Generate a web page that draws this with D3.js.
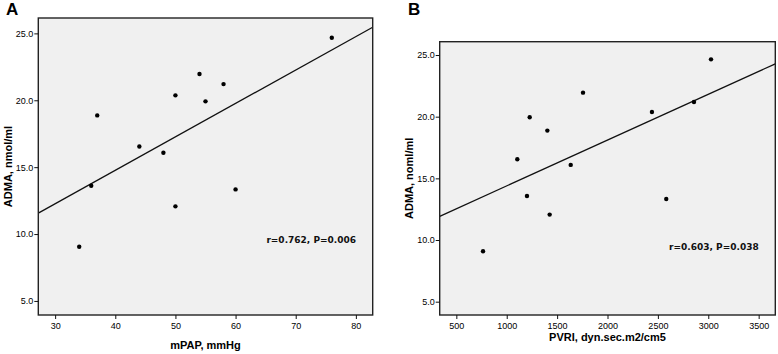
<!DOCTYPE html>
<html>
<head>
<meta charset="utf-8">
<script src="https://cdn.jsdelivr.net/npm/d3@7"></script>
<style>
  body { margin: 0; background: #fff; }
  svg { display: block; }
  .tick text { font-family: "Liberation Sans", Arial, sans-serif; font-size: 9px; fill: #000; }
  .tick line { stroke: #111; }
  .domain { display: none; }
</style>
</head>
<body>
<svg id="chart" width="778" height="354"></svg>
<script>
// mPAP (mmHg) vs ADMA
const mpap = [76, 54, 58, 50, 55, 37, 44, 48, 36, 60, 50, 34]
const admaA = [24.67, 21.96, 21.21, 20.37, 19.92, 18.87, 16.55, 16.08, 13.61, 13.34, 12.07, 9.05]

// PVRI vs ADMA
const pvri = [3027, 1757, 2858, 2441, 1228, 1403, 1105, 1635, 1201, 2583, 1426, 765]
const admaB = [24.65, 21.95, 21.19, 20.38, 19.95, 18.87, 16.55, 16.09, 13.57, 13.33, 12.06, 9.09]

const yTicks = [5, 10, 15, 20, 25]
const xTicksA = [30, 40, 50, 60, 70, 80]
const xTicksB = [500, 1000, 1500, 2000, 2500, 3000, 3500]

const svg = d3.select('#chart')

const fitLine = (xs, ys) => {
  const mx = d3.mean(xs)
  const my = d3.mean(ys)
  let sxy = 0
  let sxx = 0
  xs.forEach((x, i) => {
    sxy += (x - mx) * (ys[i] - my)
    sxx += (x - mx) * (x - mx)
  })
  const slope = sxy / sxx
  return { slope, intercept: my - slope * mx }
}

const drawPanel = (cfg) => {
  const { id, xs, ys, xTicks, xDomain, yDomain, left, right, top, bottom } = cfg
  const xScale = d3.scaleLinear().domain(xDomain).range([left, right])
  const yScale = d3.scaleLinear().domain(yDomain).range([bottom, top])

  const g = svg.append('g').attr('id', 'panel' + id)

  g.append('clipPath')
    .attr('id', 'clip' + id)
    .append('rect')
    .attr('x', left)
    .attr('y', top)
    .attr('width', right - left)
    .attr('height', bottom - top)

  g.append('rect')
    .attr('x', left)
    .attr('y', top)
    .attr('width', right - left)
    .attr('height', bottom - top)
    .attr('fill', '#f0f0f0')

  // regression line
  const { slope, intercept } = fitLine(xs, ys)
  g.append('line')
    .attr('clip-path', `url(#clip${id})`)
    .attr('x1', xScale(xDomain[0]))
    .attr('y1', yScale(intercept + slope * xDomain[0]))
    .attr('x2', xScale(xDomain[1]))
    .attr('y2', yScale(intercept + slope * xDomain[1]))
    .attr('stroke', '#111')
    .attr('stroke-width', 1.3)

  g.selectAll('circle.pt')
    .data(xs.map((x, i) => ({ x, y: ys[i] })))
    .enter()
    .append('circle')
    .attr('class', 'pt')
    .attr('cx', (d) => xScale(d.x))
    .attr('cy', (d) => yScale(d.y))
    .attr('r', 2.2)
    .attr('fill', '#000')

  g.append('rect')
    .attr('x', left)
    .attr('y', top)
    .attr('width', right - left)
    .attr('height', bottom - top)
    .attr('fill', 'none')
    .attr('stroke', '#222')
    .attr('stroke-width', 1.4)

  g.append('g')
    .attr('transform', `translate(${left},0)`)
    .call(d3.axisLeft(yScale).tickValues(yTicks).tickFormat(d3.format('.1f')).tickSize(4).tickPadding(1))

  g.append('g')
    .attr('transform', `translate(0,${bottom})`)
    .call(d3.axisBottom(xScale).tickValues(xTicks).tickFormat(d3.format('d')).tickSize(4).tickPadding(4))

  g.append('text')
    .attr('x', cfg.panelX)
    .attr('y', 15)
    .style('font', 'bold 17px "Liberation Sans", Arial, sans-serif')
    .text(id)

  g.append('text')
    .attr('x', (left + right) / 2)
    .attr('y', cfg.xTitleY)
    .attr('text-anchor', 'middle')
    .style('font', 'bold 11px "Liberation Sans", Arial, sans-serif')
    .text(cfg.xTitle)

  g.append('text')
    .attr('transform', `translate(${cfg.yTitleX},${(top + bottom) / 2}) rotate(-90)`)
    .attr('text-anchor', 'middle')
    .style('font', 'bold 11px "Liberation Sans", Arial, sans-serif')
    .text(cfg.yTitle)

  g.append('text')
    .attr('x', cfg.statX)
    .attr('y', cfg.statY)
    .attr('text-anchor', 'end')
    .style('font', 'bold 9px "DejaVu Sans", sans-serif')
    .attr('fill', '#111')
    .text(cfg.stat)
}

drawPanel({
  id: 'A',
  xs: mpap,
  ys: admaA,
  xTicks: xTicksA,
  xDomain: [27.2, 82.8],
  yDomain: [3.95, 26.15],
  left: 38.3,
  right: 372.7,
  top: 18,
  bottom: 315,
  panelX: 6,
  xTitle: 'mPAP, mmHg',
  xTitleY: 349,
  yTitle: 'ADMA, nmol/ml',
  yTitleX: 12,
  stat: 'r=0.762, P=0.006',
  statX: 356,
  statY: 242.5,
})

drawPanel({
  id: 'B',
  xs: pvri,
  ys: admaB,
  xTicks: xTicksB,
  xDomain: [335, 3665],
  yDomain: [3.92, 26.08],
  left: 439.7,
  right: 775.3,
  top: 41.7,
  bottom: 315,
  panelX: 408,
  xTitle: 'PVRI, dyn.sec.m2/cm5',
  xTitleY: 341,
  yTitle: 'ADMA, noml/ml',
  yTitleX: 413,
  stat: 'r=0.603, P=0.038',
  statX: 758.7,
  statY: 250,
})
</script>
</body>
</html>
